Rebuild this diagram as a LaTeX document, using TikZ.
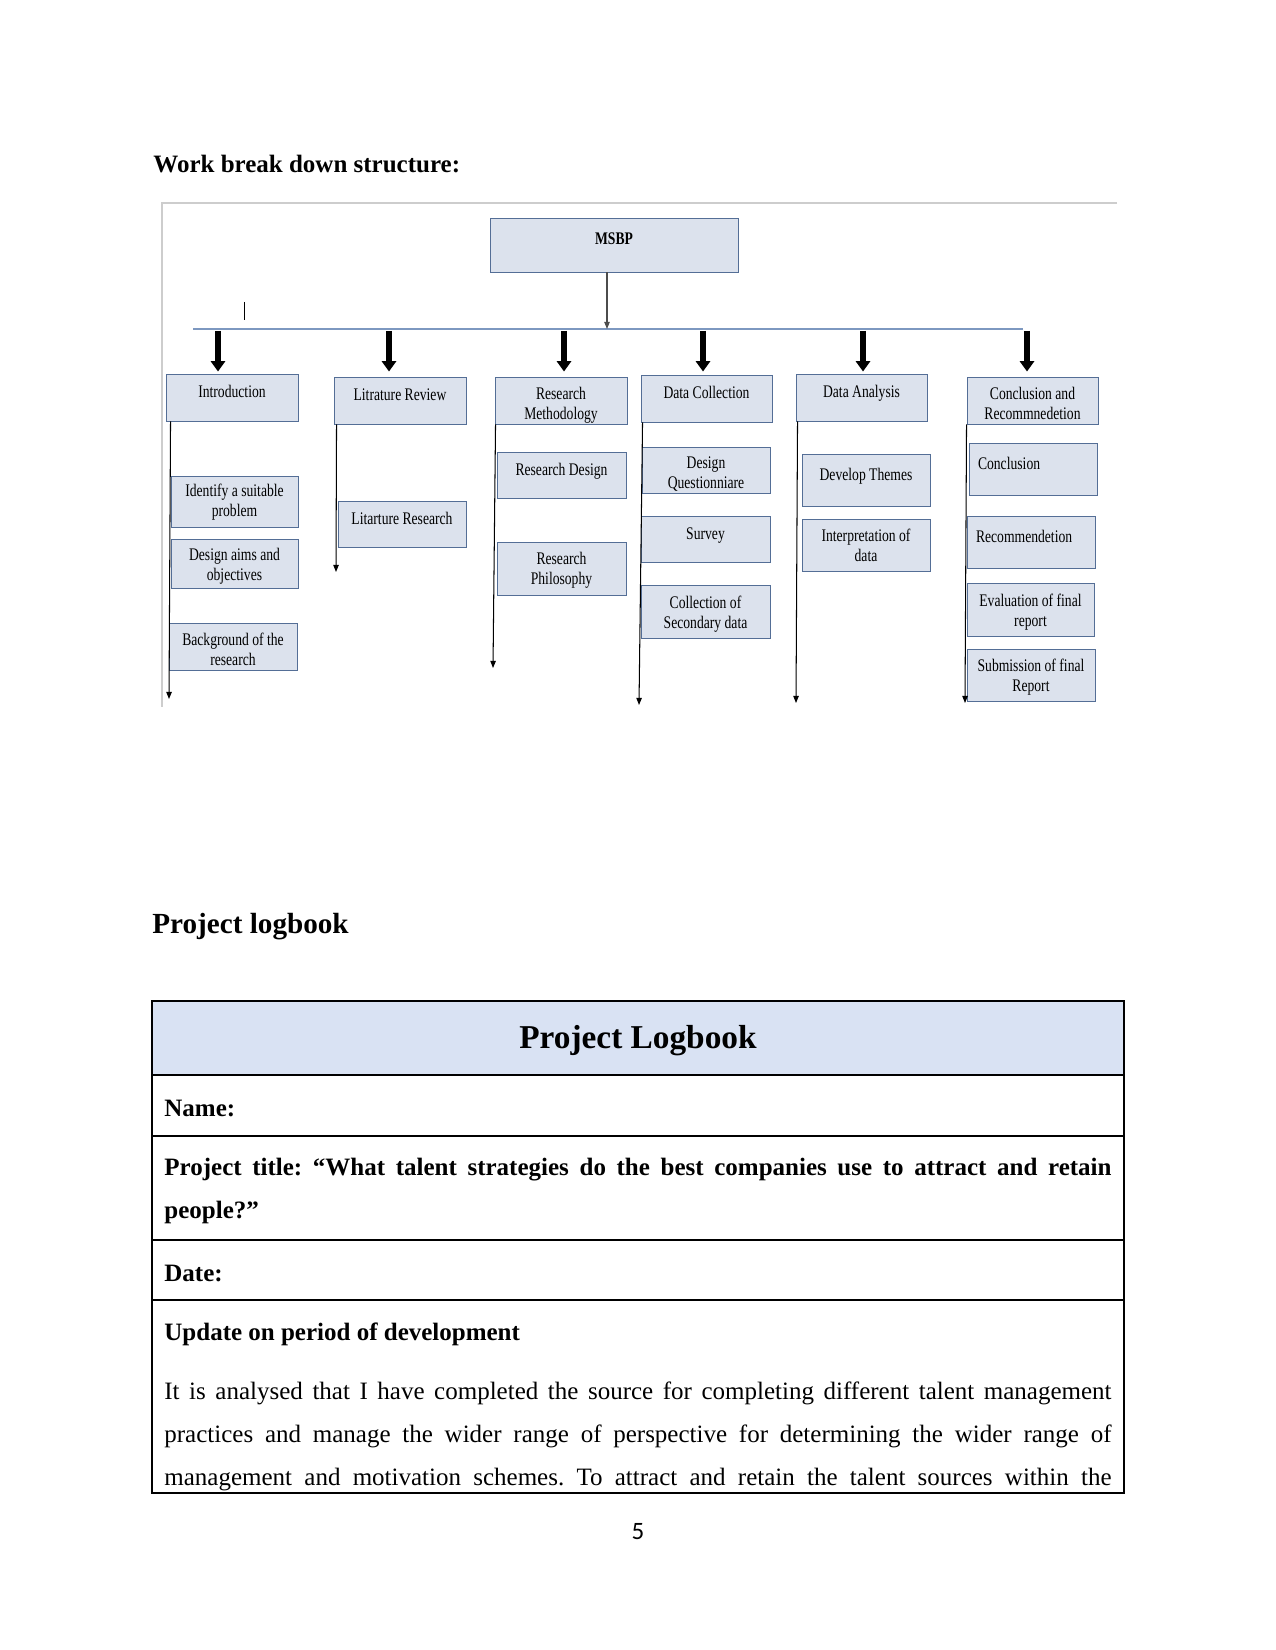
\documentclass[tikz,border=0pt]{standalone}
\usepackage{fontspec}
\setmainfont{Liberation Serif}
\newfontfamily\wbsfont[FakeStretch=0.77]{Liberation Serif}
\newfontfamily\pagefont{Carlito}
\usetikzlibrary{arrows.meta,calc}
\definecolor{boxfill}{RGB}{220,226,237}
\definecolor{boxline}{RGB}{84,110,150}
\definecolor{barline}{RGB}{125,152,192}
\definecolor{hdrfill}{RGB}{217,226,243}
\definecolor{framegray}{RGB}{205,205,205}
\newcommand{\px}{0.48pt}
\frenchspacing
\tikzset{
  wbs/.style={draw=boxline, fill=boxfill, line width=0.45pt, inner sep=0pt, align=center,
    font=\wbsfont\fontsize{8.5}{9.6}\selectfont},
  sz/.style 2 args={minimum width=#1*\px, minimum height=#2*\px},
  oneline/.style={text height=6pt, text depth=6pt},
  leftbox/.style={align=left, inner xsep=4.32pt, text width=52.8pt},
  fat/.style={line width=2.8pt, -{Triangle[length=5pt,width=6.8pt]}},
  down/.style={line width=0.5pt, -{Triangle[length=3.4pt,width=2.6pt]}},
  txt/.style={anchor=base west, inner sep=0pt, font=\fontsize{12}{14}\selectfont},
  btxt/.style={txt, font=\bfseries\fontsize{12}{14}\selectfont},
}
% pushes a two line label a little down in its box
\newcommand{\dn}[1]{\rule{0pt}{#1}}
\begin{document}
\begin{tikzpicture}[x=0.48pt,y=-0.48pt]
\fill[white] (0,0) rectangle (1275,1650);
\useasboundingbox (0,0) rectangle (1275,1650);

% headings
\node[btxt] (wbstitle) at (153,172.7) {Work break down structure:};
\node[txt, font=\bfseries\fontsize{14}{16}\selectfont] (logheading) at (152,933) {Project logbook};

% picture frame
\draw[framegray, line width=0.8pt] (1117,203) -- (162,203) -- (162,707);
\draw[line width=0.35pt] (244,302) -- (244,320);

% top box and bar
\node[wbs, oneline, sz={248}{54}] (msbp) at (614,245) {\bfseries MSBP};
\coordinate (barL) at (193,329);
\coordinate (barR) at (1023,329);
\coordinate (hub) at (607,329);
\draw[barline, line width=0.6pt] (barL) -- (barR);
\draw[black!70, line width=0.5pt, -{Triangle[length=3.4pt,width=2.6pt]}] ($(msbp.south)+(-7,0)$) -- (hub);

% main phases
\node[wbs, oneline, sz={132}{47}] (intro) at (232,397.5) {Introduction};
\node[wbs, oneline, sz={132}{47}] (lit) at (400,400.5) {Litrature Review};
\node[wbs, sz={132}{47}] (meth) at (561,400.5) {\dn{10.4pt}Research\\Methodology};
\node[wbs, oneline, sz={131}{47}] (dcol) at (706.5,398.5) {Data Collection};
\node[wbs, oneline, sz={131}{47}] (dana) at (861.5,397.5) {Data Analysis};
\node[wbs, sz={131}{47}] (conc) at (1032.5,400.5) {\dn{8.6pt}Conclusion and\\Recommnedetion};

\coordinate (b1) at (218,331);
\coordinate (b2) at (389,331);
\coordinate (b3) at (564,331);
\coordinate (b4) at (703,331);
\coordinate (b5) at (863,331);
\coordinate (b6) at (1027,331);
\draw[fat] (b1) -- ($(b1 |- intro.north)+(0,-2)$);
\draw[fat] (b2) -- ($(b2 |- lit.north)+(0,-5)$);
\draw[fat] (b3) -- ($(b3 |- meth.north)+(0,-5)$);
\draw[fat] (b4) -- ($(b4 |- dcol.north)+(0,-3)$);
\draw[fat] (b5) -- ($(b5 |- dana.north)+(0,-2)$);
\draw[fat] (b6) -- ($(b6 |- conc.north)+(0,-5)$);

% sub tasks
\node[wbs, sz={127}{51}] (intro1) at (234.5,501.5) {\dn{6.8pt}Identify a suitable\\problem};
\node[wbs, sz={127}{49}] (intro2) at (234.5,563.5) {\dn{9pt}Design aims and\\objectives};
\node[wbs, sz={128}{47}] (intro3) at (233,646.5) {\dn{8.6pt}Background of the\\research};
\node[wbs, oneline, sz={128}{46}] (lit1) at (402,524) {Litarture Research};
\node[wbs, oneline, sz={129}{46}] (meth1) at (561.5,475) {Research Design};
\node[wbs, sz={129}{53}] (meth2) at (561.5,568.5) {\dn{7.6pt}Research\\Philosophy};
\node[wbs, sz={128}{46}] (dcol1) at (706,470) {\dn{9.6pt}Design\\Questionniare};
\node[wbs, oneline, sz={129}{46}] (dcol2) at (705.5,539) {Survey};
\node[wbs, sz={129}{53}] (dcol3) at (705.5,611.5) {\dn{8.6pt}Collection of\\Secondary data};
\node[wbs, oneline, sz={128}{52}] (dana1) at (866,480) {Develop Themes};
\node[wbs, sz={128}{52}] (dana2) at (866,545) {Interpretation of\\data};
\node[wbs, oneline, leftbox, sz={128}{52}] (conc1) at (1033,469) {Conclusion};
\node[wbs, oneline, leftbox, sz={128}{52}] (conc2) at (1031,542) {Recommendetion};
\node[wbs, sz={127}{53}] (conc3) at (1030.5,609.5) {\dn{8.6pt}Evaluation of final\\report};
\node[wbs, sz={128}{52}] (conc4) at (1031,675) {\dn{7.8pt}Submission of final\\Report};

% down lines
\coordinate (e1) at (169,699);
\coordinate (e2) at (336,572);
\coordinate (e3) at (493,668);
\coordinate (e4) at (639,705);
\coordinate (e5) at (796,703);
\coordinate (e6) at (965,703);
\draw[down] ($(intro.south west)+(5,0)$) -- (e1);
\draw[down] ($(lit.south west)+(3,0)$) -- (e2);
\draw[down] ($(meth.south west)+(1,0)$) -- (e3);
\draw[down] ($(dcol.south west)+(2,0)$) -- (e4);
\draw[down] ($(dana.south west)+(2,0)$) -- (e5);
\draw[down] (conc.south west) -- (e6);

% logbook table
\draw[fill=hdrfill, line width=0.6pt] (152,1001) rectangle (1124,1075);
\draw[line width=0.6pt] (152,1075) rectangle (1124,1493);
\draw[line width=0.6pt] (152,1136) -- (1124,1136);
\draw[line width=0.6pt] (152,1240) -- (1124,1240);
\draw[line width=0.6pt] (152,1300) -- (1124,1300);

\node[txt, anchor=base, font=\bfseries\fontsize{16}{19}\selectfont] (logtitle) at (638,1048) {Project Logbook};
\node[btxt] (name) at (164,1116) {Name:};
\node[btxt] (ptitle1) at (164,1175) {\makebox[454.6pt][s]{Project title: “What talent strategies do the best companies use to attract and retain}};
\node[btxt] (ptitle2) at (164,1218) {people?”};
\node[btxt] (date) at (164,1281) {Date:};
\node[btxt] (update) at (164,1340) {Update on period of development};
\node[txt] (body1) at (164,1399) {\makebox[454.6pt][s]{It is analysed that I have completed the source for completing different talent management}};
\node[txt] (body2) at (164,1442) {\makebox[454.6pt][s]{practices and manage the wider range of perspective for determining the wider range of}};
\node[txt] (body3) at (164,1485) {\makebox[454.6pt][s]{management and motivation schemes. To attract and retain the talent sources within the}};

\node[txt, anchor=base, font=\pagefont\fontsize{12}{14}\selectfont] (pageno) at (638,1539) {5};
\end{tikzpicture}
\end{document}
